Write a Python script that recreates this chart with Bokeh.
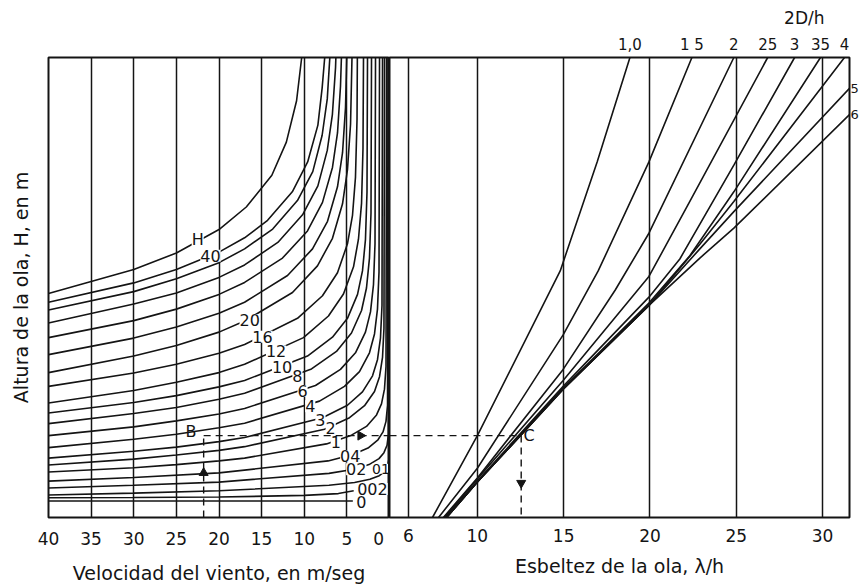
import math
from bokeh.plotting import figure
from bokeh.models import Range1d, FixedTicker, Span, LinearAxis
from bokeh.layouts import row
from bokeh.embed import file_html
from bokeh.resources import INLINE
from bokeh.core.properties import value

FONT = "DejaVu Sans"
INK = "#141414"

# ---------------- left panel : wind speed (m/s) vs relative wave height ----------------
wind_ticks = [40, 35, 30, 25, 20, 15, 10, 5, 0]
wind_grid = [35, 30, 25, 20, 15, 10, 5]
wind_zero = 0

c_hH_w = [40, 30, 25, 20, 16.8, 13.8, 12.1, 10.9, 10.3]
c_hH_y = [48.7, 53.9, 57.5, 62.6, 67.5, 74.4, 81.6, 90.6, 100]
c_h40_w = [40, 30, 25, 20, 17, 14.3, 11.4, 9.6, 8.4, 7.9, 7.6]
c_h40_y = [46.8, 51.0, 53.9, 57.7, 60.8, 64.6, 70.8, 77.3, 85.3, 93.4, 100]
c_h36_w = [40, 30, 25, 20, 17, 13.7, 10.8, 9.0, 7.9, 7.3, 7.0]
c_h36_y = [45.1, 49.1, 51.9, 55.4, 58.4, 62.7, 68.9, 75.2, 83.1, 91.0, 100]
c_h32_w = [40, 30, 25, 20, 17, 13.1, 10.2, 8.4, 7.3, 6.7, 6.33, 6.29]
c_h32_y = [42.3, 46.4, 48.8, 52.2, 54.9, 59.8, 65.8, 72.1, 79.8, 87.6, 97.8, 100]
c_h28_w = [40, 30, 25, 20, 17, 12.55, 9.62, 7.86, 6.69, 6.10, 5.75, 5.64]
c_h28_y = [39.1, 42.8, 45.3, 48.5, 51.1, 56.4, 62.3, 68.5, 76.1, 83.6, 93.7, 100]
c_h24_w = [40, 30, 25, 20, 17, 11.96, 9.03, 7.27, 6.10, 5.51, 5.16, 5.01]
c_h24_y = [35.4, 39.0, 41.4, 44.4, 46.8, 52.6, 58.4, 64.4, 71.9, 79.3, 89.1, 100]
c_h20_w = [40, 30, 25, 20, 17, 11.38, 8.45, 6.69, 5.51, 4.93, 4.57, 4.40]
c_h20_y = [31.5, 35.1, 37.4, 40.3, 42.7, 48.9, 54.7, 60.7, 68.2, 75.6, 85.5, 100]
c_h16_w = [40, 30, 25, 20, 17, 10.79, 7.86, 6.10, 4.93, 4.34, 3.99, 3.81, 3.77]
c_h16_y = [28.5, 31.4, 33.3, 35.7, 37.6, 43.3, 48.2, 53.2, 59.5, 65.7, 74.0, 86.5, 100]
c_h12_w = [40, 30, 25, 20, 17, 10.09, 7.16, 5.40, 4.22, 3.64, 3.28, 3.11, 3.05]
c_h12_y = [24.9, 27.6, 29.4, 31.5, 33.3, 39.1, 43.8, 48.6, 54.5, 60.5, 68.3, 80.2, 100]
c_h10_w = [40, 30, 25, 20, 17, 9.62, 6.69, 4.93, 3.75, 3.17, 2.82, 2.64, 2.58]
c_h10_y = [22.7, 25.0, 26.5, 28.4, 29.8, 35.1, 39.2, 43.3, 48.5, 53.6, 60.4, 70.7, 100]
c_h8_w = [40, 30, 25, 20, 17, 9.15, 6.22, 4.46, 3.28, 2.70, 2.35, 2.17, 2.11]
c_h8_y = [20.4, 22.6, 23.9, 25.7, 27.0, 32.3, 36.1, 40.1, 45.0, 49.9, 56.4, 66.2, 100]
c_h6_w = [40, 30, 25, 20, 17, 8.68, 5.75, 3.99, 2.82, 2.23, 1.88, 1.70, 1.64]
c_h6_y = [17.8, 19.7, 21.0, 22.5, 23.7, 28.7, 32.2, 35.8, 40.3, 44.7, 50.6, 59.5, 100]
c_h4_w = [40, 30, 25, 20, 17, 8.21, 5.28, 3.52, 2.35, 1.76, 1.41, 1.23, 1.17]
c_h4_y = [15.2, 17.0, 18.1, 19.5, 20.5, 25.3, 28.5, 31.7, 35.8, 39.9, 45.3, 53.4, 100]
c_h3_w = [40, 30, 25, 20, 17, 7.86, 4.93, 3.17, 1.99, 1.41, 1.06, 0.88, 0.82]
c_h3_y = [12.9, 14.4, 15.3, 16.5, 17.4, 21.7, 24.4, 27.3, 30.8, 34.3, 39.0, 46.1, 100]
c_h2_w = [40, 30, 25, 20, 17, 7.62, 4.69, 2.93, 1.76, 1.17, 0.82, 0.65, 0.59]
c_h2_y = [11.4, 12.7, 13.6, 14.6, 15.4, 19.2, 21.7, 24.3, 27.4, 30.6, 34.8, 41.1, 100]
c_h1_w = [40, 30, 25, 20, 17, 7.39, 4.46, 2.70, 1.52, 0.94, 0.59, 0.41, 0.35]
c_h1_y = [9.9, 10.8, 11.5, 12.3, 12.9, 16.0, 17.9, 19.8, 22.3, 24.7, 27.9, 32.8, 100]
c_h04_w = [40, 30, 20, 7.21, 4.28, 2.52, 1.35, 0.76, 0.41, 0.23, 0.18]
c_h04_y = [7.9, 8.7, 9.7, 12.3, 13.7, 15.1, 16.9, 18.6, 20.9, 24.4, 100]
c_h02_w = [40, 30, 20, 7.10, 4.16, 2.40, 1.23, 0.65, 0.29, 0.12, 0.06]
c_h02_y = [6.4, 7.0, 7.7, 9.6, 10.5, 11.5, 12.8, 14.1, 15.7, 18.2, 100]
c_h01_w = [40, 30, 20, 7.1, 4.1, 2.3, 1.2, 0.6, 0.26, 0.08, 0.03]
c_h01_y = [4.9, 5.3, 5.8, 7.0, 7.6, 8.3, 9.1, 9.9, 11.0, 12.6, 100]
c_h002_w = [40, 30, 20, 10, 6, 4.2]
c_h002_y = [4.3, 4.35, 4.45, 4.8, 5.2, 5.8]
c_h0_w = [40, 20, 4.3]
c_h0_y = [3.6, 3.6, 3.6]

left_curves = [
    (c_hH_w, c_hH_y), (c_h40_w, c_h40_y), (c_h36_w, c_h36_y), (c_h32_w, c_h32_y),
    (c_h28_w, c_h28_y), (c_h24_w, c_h24_y), (c_h20_w, c_h20_y), (c_h16_w, c_h16_y),
    (c_h12_w, c_h12_y), (c_h10_w, c_h10_y), (c_h8_w, c_h8_y), (c_h6_w, c_h6_y),
    (c_h4_w, c_h4_y), (c_h3_w, c_h3_y), (c_h2_w, c_h2_y), (c_h1_w, c_h1_y),
    (c_h04_w, c_h04_y), (c_h02_w, c_h02_y), (c_h01_w, c_h01_y),
    (c_h002_w, c_h002_y), (c_h0_w, c_h0_y),
]

curve_label_text = ["H", "40", "20", "16", "12", "10", "8", "6", "4", "3", "2", "1",
                    "04", "02", "002", "0"]
curve_label_w = [22.5, 21.0, 16.4, 14.9, 13.3, 12.6, 10.8, 10.2, 9.3, 8.1, 6.9, 6.3,
                 4.6, 3.9, 2.0, 3.3]
curve_label_y = [60.5, 56.9, 42.9, 39.3, 36.1, 32.8, 30.7, 27.5, 24.2, 21.2, 19.5, 16.5,
                 13.3, 10.5, 6.2, 3.4]
small_label_text = ["01"]
small_label_w = [1.0]
small_label_y = [10.6]

# worked example B -> C
B_w = 21.8
BC_y = 17.8
C_lam = 12.54
arrow_up_y = 9.7
arrow_right_w = 3.4
arrow_down_y = 7.5

# ---------------- right panel : wave steepness lambda/h ----------------
lam_ticks = [6, 10, 15, 20, 25, 30]
LAM_START = 4.91
LAM_END = 31.56

lam_10 = [7.40, 10.0, 14.80, 16.94, 18.84]
y_10 = [0, 17.8, 53.6, 77.3, 100]
lam_15 = [7.75, 10.0, 14.97, 17.0, 19.94, 22.43]
y_15 = [0, 10.7, 39.7, 53.6, 77.3, 100]
lam_20 = [8.03, 10.0, 14.97, 17.98, 19.94, 24.86]
y_20 = [0, 8.6, 32.2, 49.4, 61.8, 100]
lam_25 = [8.09, 10.0, 14.97, 19.94, 22.31, 26.82]
y_25 = [0, 8.4, 29.8, 52.4, 68.7, 100]
lam_30 = [8.15, 10.0, 14.97, 19.94, 21.73, 24.86, 28.38]
y_30 = [0, 7.9, 28.5, 47.9, 56.2, 76.6, 100]
lam_35 = [8.21, 10.0, 14.97, 19.94, 22.31, 24.86, 29.88]
y_35 = [0, 7.7, 28.1, 46.6, 56.9, 70.8, 100]
lam_40 = [8.21, 10.0, 12.49, 14.97, 19.94, 22.89, 24.86, 31.27]
y_40 = [0, 7.7, 17.8, 27.9, 46.1, 59.4, 68.7, 100]
lam_50 = [8.21, 10.0, 12.49, 14.97, 19.94, 22.89, 24.86, 31.56]
y_50 = [0, 7.7, 17.8, 27.9, 46.1, 58.4, 66.5, 93.3]
lam_60 = [8.21, 10.0, 12.49, 14.97, 19.94, 22.89, 24.86, 31.56]
y_60 = [0, 7.7, 17.8, 27.9, 46.1, 56.4, 62.9, 87.6]

right_lines = [(lam_10, y_10), (lam_15, y_15), (lam_20, y_20), (lam_25, y_25),
               (lam_30, y_30), (lam_35, y_35), (lam_40, y_40), (lam_50, y_50),
               (lam_60, y_60)]
top_texts = ["1,0", "1 5", "2", "25", "3", "35", "4"]
side_texts = ["5", "6"]
ratio_title = "2D/h"


def style(p):
    p.outline_line_color = INK
    p.outline_line_width = 2
    p.background_fill_color = "white"
    p.border_fill_color = "white"
    p.ygrid.visible = False
    p.xgrid.grid_line_color = INK
    p.xgrid.grid_line_width = 1.5
    ax = p.xaxis[0]
    ax.axis_line_color = None
    ax.major_tick_line_color = None
    ax.minor_tick_line_color = None
    ax.major_tick_out = 0
    ax.major_tick_in = 0
    ax.major_label_text_font = FONT
    ax.major_label_text_font_size = "17px"
    ax.major_label_text_color = INK
    ax.major_label_standoff = 11
    ax.axis_label_text_font = FONT
    ax.axis_label_text_font_size = "19px"
    ax.axis_label_text_font_style = "normal"
    ax.axis_label_text_color = INK
    ax.axis_label_standoff = 10


def bare_axis(ax, size):
    ax.axis_line_color = None
    ax.major_tick_line_color = None
    ax.minor_tick_line_color = None
    ax.major_tick_out = 0
    ax.major_tick_in = 0
    ax.major_label_text_font = FONT
    ax.major_label_text_font_size = size
    ax.major_label_text_color = INK


left = figure(width=389, height=586, x_range=Range1d(40, 0), y_range=Range1d(0, 100),
              output_backend="svg", toolbar_location=None,
              min_border_left=48, min_border_right=0, min_border_top=54, min_border_bottom=66)
style(left)
left.xaxis.ticker = FixedTicker(ticks=wind_ticks)
left.xaxis.major_label_overrides = {wind_zero: "0\u00a0"}
left.xgrid.ticker = FixedTicker(ticks=wind_grid)
left.xaxis.axis_label = "Velocidad del viento, en m/seg"
left.yaxis.ticker = FixedTicker(ticks=[])
left.yaxis.axis_line_color = None
left.yaxis.major_tick_line_color = None
left.yaxis.minor_tick_line_color = None
left.yaxis.major_label_text_font_size = "0px"
left.yaxis.axis_label = "Altura de la ola, H, en m"
left.yaxis.axis_label_text_font = FONT
left.yaxis.axis_label_text_font_size = "19px"
left.yaxis.axis_label_text_font_style = "normal"
left.yaxis.axis_label_text_color = INK
left.yaxis.axis_label_standoff = 17

left.add_layout(Span(location=wind_zero, dimension="height", line_color=INK, line_width=3))

for cw, cy in left_curves:
    left.line(cw, cy, line_color=INK, line_width=1.6)

left.text(x=curve_label_w, y=curve_label_y, text=curve_label_text,
          text_font=value(FONT), text_font_size="16px", text_color=INK,
          text_align="center", text_baseline="middle",
          background_fill_color="white")
left.text(x=small_label_w, y=small_label_y, text=small_label_text,
          text_font=value(FONT), text_font_size="14px", text_color=INK,
          text_align="center", text_baseline="middle",
          background_fill_color="white")

left.line([B_w, wind_zero], [BC_y, BC_y], line_color=INK, line_width=1.4, line_dash="7 5")
left.line([B_w, B_w], [0, BC_y], line_color=INK, line_width=1.4, line_dash="7 5")
left.scatter([B_w], [arrow_up_y], marker="triangle", size=9, color=INK)
left.scatter([arrow_right_w], [BC_y], marker="triangle", angle=-math.pi / 2, size=9, color=INK)
left.text(x=[B_w + 1.5], y=[BC_y + 0.9], text=["B"], text_font=value(FONT),
          text_font_size="16px", text_color=INK, text_align="center", text_baseline="middle")

right = figure(width=472, height=586, x_range=Range1d(LAM_START, LAM_END), y_range=Range1d(0, 100),
               output_backend="svg", toolbar_location=None, y_axis_location=None,
               min_border_left=0, min_border_right=11, min_border_top=54, min_border_bottom=66)
style(right)
right.xaxis.ticker = FixedTicker(ticks=lam_ticks)
right.xgrid.ticker = FixedTicker(ticks=lam_ticks)
right.xaxis.axis_label = "Esbeltez de la ola, λ/h"

for lx, ly in right_lines:
    right.line(lx, ly, line_color=INK, line_width=1.6)

# labels of the 2D/h family: along the top edge and at the right edge
top_lams = [lx[-1] for lx, ly in right_lines[:7]]
top_axis = LinearAxis(ticker=FixedTicker(ticks=top_lams),
                      major_label_overrides={t: s for t, s in zip(top_lams, top_texts)})
bare_axis(top_axis, "15px")
top_axis.major_label_standoff = 4
right.add_layout(top_axis, "above")

side_ys = [ly[-1] for lx, ly in right_lines[7:]]
side_axis = LinearAxis(ticker=FixedTicker(ticks=side_ys),
                       major_label_overrides={t: s for t, s in zip(side_ys, side_texts)})
bare_axis(side_axis, "13px")
side_axis.major_label_standoff = 1
right.add_layout(side_axis, "right")

right.title.text = ratio_title
right.title.align = "right"
right.title.offset = 25
right.title.text_font = FONT
right.title.text_font_size = "17px"
right.title.text_font_style = "normal"
right.title.text_color = INK

right.line([LAM_START, C_lam], [BC_y, BC_y], line_color=INK, line_width=1.4, line_dash="7 5")
right.line([C_lam, C_lam], [BC_y, 0], line_color=INK, line_width=1.4, line_dash="7 5")
right.scatter([C_lam], [arrow_down_y], marker="inverted_triangle", size=9, color=INK)
right.text(x=[C_lam + 0.45], y=[BC_y], text=["C"], text_font=value(FONT),
           text_font_size="16px", text_color=INK, text_align="center", text_baseline="middle")

layout = row(left, right)
open("out.html", "w").write(file_html(layout, INLINE, title="Nomograma"))
